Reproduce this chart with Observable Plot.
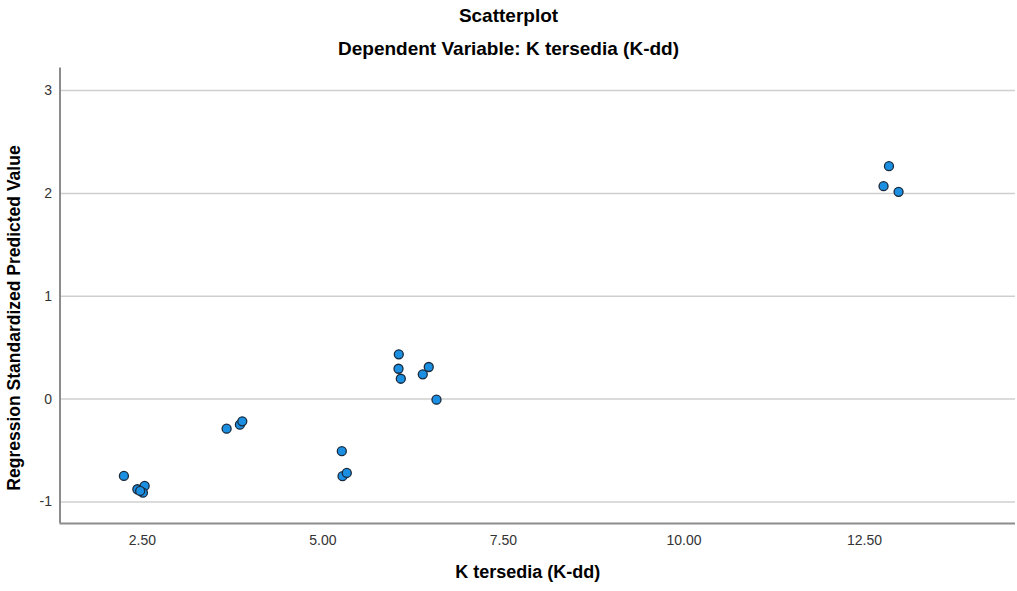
<!DOCTYPE html>
<html>
<head>
<meta charset="utf-8">
<script src="https://cdn.jsdelivr.net/npm/d3@7"></script>
<script src="https://cdn.jsdelivr.net/npm/@observablehq/plot@0.6"></script>
<style>
  html, body { margin: 0; padding: 0; background: #ffffff; }
  body { position: relative; width: 1017px; height: 591px; overflow: hidden; font-family: "Liberation Sans", Arial, sans-serif; }
  .title { height: 32px; line-height: 32px; text-align: center; font-weight: bold; font-size: 19px; color: #000; }
  .subtitle { height: 34px; line-height: 34px; text-align: center; font-weight: bold; font-size: 19px; color: #000; }
  .ylabel { position: absolute; left: 14px; top: 318px; transform: translate(-50%, -50%) rotate(-90deg);
            white-space: nowrap; font-weight: bold; font-size: 17.5px; line-height: 20px; color: #000; }
  #chart svg { display: block; overflow: visible; }
</style>
</head>
<body>
<div class="title">Scatterplot</div>
<div class="subtitle">Dependent Variable: K tersedia (K-dd)</div>
<div id="chart"></div>
<div class="ylabel" id="ylabel"></div>
<script>
// Observed K tersedia (K-dd) and the regression's standardized predicted value
const kTersedia = [2.245, 2.431, 2.532, 2.508, 2.470, 3.667, 3.851, 3.884, 5.262, 5.272,
                   5.331, 6.051, 6.047, 6.079, 6.383, 6.466, 6.573, 12.838, 12.763, 12.971];
const predictedZ = [-0.747, -0.877, -0.845, -0.910, -0.893, -0.288, -0.249, -0.216, -0.507, -0.750,
                    -0.718, 0.435, 0.295, 0.198, 0.241, 0.312, -0.006, 2.265, 2.071, 2.016];

const xTicks = [2.5, 5, 7.5, 10, 12.5];
const yTicks = [-1, 0, 1, 2, 3];
const xDomain = [1.36, 14.59];
const yDomain = [-1.21, 3.22];

const xLabel = "K tersedia (K-dd)";
const yLabel = "Regression Standardized Predicted Value";

const points = kTersedia.map((k, i) => ({k, z: predictedZ[i]}));

const fmtX = d3.format(".2f");
const fmtY = d => d < 0 ? "-" + Math.abs(d) : String(d);

const chart = Plot.plot({
  width: 1017,
  height: 525,
  marginTop: 1.5,
  marginBottom: 68,
  marginLeft: 59.5,
  marginRight: 2,
  style: {background: "#ffffff", fontFamily: "'Liberation Sans', Arial, sans-serif", color: "#222", overflow: "visible"},
  x: {domain: xDomain, label: null},
  y: {domain: yDomain, label: null},
  marks: [
    Plot.gridY(yTicks, {stroke: "#cfcfcf", strokeOpacity: 1, strokeWidth: 1.5}),
    Plot.ruleX([xDomain[0]], {stroke: "#8c8c8c", strokeWidth: 2}),
    Plot.ruleY([yDomain[0]], {stroke: "#8c8c8c", strokeWidth: 2}),
    Plot.axisX(xTicks, {tickSize: 0, tickPadding: 12, fontSize: 14, fill: "#333", tickFormat: fmtX, label: null}),
    Plot.axisY(yTicks, {tickSize: 0, tickPadding: 8, fontSize: 14, fill: "#333", tickFormat: fmtY, label: null}),
    Plot.dot(points, {x: "k", y: "z", r: 4.5, fill: "#1b8fe2", stroke: "#1a2a3c", strokeWidth: 1.3}),
    Plot.text([xLabel], {frameAnchor: "bottom", dx: -10, dy: 54, fontSize: 18, fontWeight: "bold", fill: "#000"})
  ]
});
document.getElementById("chart").appendChild(chart);
document.getElementById("ylabel").textContent = yLabel;
</script>
</body>
</html>
